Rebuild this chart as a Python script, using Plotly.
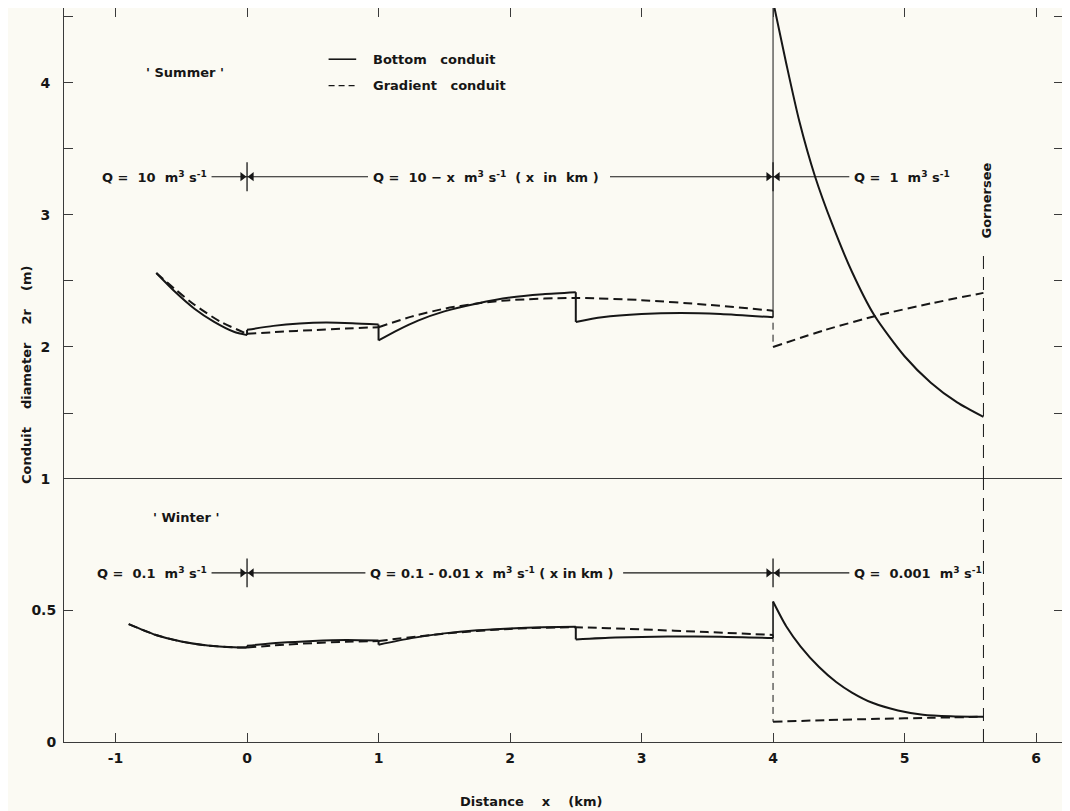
import plotly.graph_objects as go

# ---------------- data ----------------
# 'Summer' – bottom conduit (solid), segments between jumps
sb_x1 = [-0.69, -0.55, -0.40, -0.25, -0.10, 0.0]
sb_y1 = [2.56, 2.42, 2.29, 2.19, 2.115, 2.09]
sb_x2 = [0.0, 0.2, 0.4, 0.6, 0.8, 1.0]
sb_y2 = [2.13, 2.16, 2.178, 2.185, 2.18, 2.17]
sb_x3 = [1.0, 1.15, 1.3, 1.5, 1.75, 2.0, 2.25, 2.5]
sb_y3 = [2.05, 2.13, 2.2, 2.27, 2.33, 2.375, 2.40, 2.415]
sb_x4 = [2.5, 2.7, 3.0, 3.3, 3.6, 4.0]
sb_y4 = [2.19, 2.225, 2.25, 2.258, 2.25, 2.225]
sb_x5 = [4.0, 4.1, 4.2, 4.32, 4.45, 4.6, 4.77, 5.0, 5.2, 5.4, 5.6]
sb_y5 = [4.62, 4.15, 3.71, 3.29, 2.93, 2.57, 2.24, 1.93, 1.73, 1.58, 1.47]

# 'Summer' – gradient conduit (dashed)
sg_x1 = [-0.69, -0.55, -0.40, -0.20, 0.0]
sg_y1 = [2.56, 2.44, 2.32, 2.19, 2.10]
sg_x2 = [0.0, 0.25, 0.5, 0.75, 1.0]
sg_y2 = [2.10, 2.115, 2.128, 2.14, 2.15]
sg_x3 = [1.0, 1.25, 1.5, 1.75, 2.0, 2.5, 3.0, 3.5, 4.0]
sg_y3 = [2.15, 2.23, 2.29, 2.33, 2.355, 2.372, 2.355, 2.32, 2.275]
sg_x4 = [4.0, 4.4, 4.8, 5.2, 5.6]
sg_y4 = [2.0, 2.13, 2.24, 2.33, 2.41]

# 'Winter' – bottom conduit (solid)
wb_x1 = [-0.9, -0.7, -0.5, -0.3, -0.1, 0.0]
wb_y1 = [0.448, 0.408, 0.382, 0.367, 0.36, 0.359]
wb_x2 = [0.0, 0.25, 0.5, 0.75, 1.0]
wb_y2 = [0.366, 0.377, 0.384, 0.388, 0.386]
wb_x3 = [1.0, 1.25, 1.5, 1.75, 2.0, 2.25, 2.5]
wb_y3 = [0.37, 0.395, 0.413, 0.425, 0.432, 0.436, 0.438]
wb_x4 = [2.5, 2.8, 3.2, 3.6, 4.0]
wb_y4 = [0.39, 0.397, 0.401, 0.40, 0.395]
wb_x5 = [4.0, 4.1, 4.21, 4.35, 4.48, 4.6, 4.75, 4.95, 5.14, 5.35, 5.6]
wb_y5 = [0.534, 0.44, 0.363, 0.285, 0.228, 0.188, 0.15, 0.12, 0.104, 0.098, 0.096]

# 'Winter' – gradient conduit (dashed)
wg_x1 = [-0.9, -0.7, -0.5, -0.3, -0.1, 0.0]
wg_y1 = [0.448, 0.408, 0.382, 0.367, 0.36, 0.359]
wg_x2 = [0.0, 0.25, 0.5, 0.75, 1.0]
wg_y2 = [0.359, 0.369, 0.376, 0.381, 0.384]
wg_x3 = [1.0, 1.5, 2.0, 2.5, 3.0, 3.5, 4.0]
wg_y3 = [0.384, 0.412, 0.43, 0.436, 0.428, 0.418, 0.407]
wg_x4 = [4.0, 4.4, 4.8, 5.2, 5.6]
wg_y4 = [0.077, 0.083, 0.088, 0.092, 0.096]

# Gornersee position and top of its marker line
gornersee_x = 5.6
gornersee_top = 2.71

# Discharge-regime boundaries and annotation levels
q_bounds = [0.0, 4.0]
q_summer_level = 3.29
q_winter_level = 0.643

x_ticks = [-1, 0, 1, 2, 3, 4, 5, 6]
x_labels = ["-1", "0", "1", "2", "3", "4", "5", "6"]
y_bottom_ticks = [0, 0.5]
y_bottom_labels = ["0", "0.5"]
y_top_ticks = [1, 2, 3, 4]
y_top_labels = ["1", "2", "3", "4"]

# ---------------- styling ----------------
BG = "#fbfaf3"
INK = "#161616"
FRAME = "#3a3a3a"
FONT = "DejaVu Sans"
DASH = "9px,5px"

fig = go.Figure()


def add_line(x, y, panel, dash="solid", width=2.0, shape="spline"):
    xa, ya = ("x2", "y2") if panel == "top" else ("x", "y")
    fig.add_trace(go.Scatter(
        x=x, y=y, mode="lines", xaxis=xa, yaxis=ya, showlegend=False,
        hoverinfo="skip",
        line=dict(color=INK, width=width, dash=dash, shape=shape, smoothing=0.7)))


def add_series(segs_x, segs_y, panel, dash, jump_widths):
    for sx, sy in zip(segs_x, segs_y):
        add_line(sx, sy, panel, dash=dash)
    # vertical jumps between consecutive segments
    for i in range(len(segs_x) - 1):
        xj = segs_x[i][-1]
        if dash == "solid":
            jd = "solid"
        else:
            jd = dash if jump_widths[i] > 1.5 else "7px,5px"
        add_line([xj, xj], [segs_y[i][-1], segs_y[i + 1][0]], panel,
                 dash=jd, width=jump_widths[i], shape="linear")


# Summer
add_series([sb_x1, sb_x2, sb_x3, sb_x4, sb_x5], [sb_y1, sb_y2, sb_y3, sb_y4, sb_y5],
           "top", "solid", [2.0, 2.0, 2.0, 1.0])
add_series([sg_x1, sg_x2, sg_x3, sg_x4], [sg_y1, sg_y2, sg_y3, sg_y4],
           "top", DASH, [2.0, 2.0, 1.0])
# Winter
add_series([wb_x1, wb_x2, wb_x3, wb_x4, wb_x5], [wb_y1, wb_y2, wb_y3, wb_y4, wb_y5],
           "bottom", "solid", [2.0, 2.0, 2.0, 1.6])
add_series([wg_x1, wg_x2, wg_x3, wg_x4], [wg_y1, wg_y2, wg_y3, wg_y4],
           "bottom", DASH, [2.0, 2.0, 1.0])

# Gornersee dashed marker line (through both panels)
add_line([gornersee_x, gornersee_x], [0, 1], "bottom", dash="13px,8px", width=1.0, shape="linear")
add_line([gornersee_x, gornersee_x], [1, gornersee_top], "top", dash="13px,8px", width=1.0, shape="linear")


# Discharge arrows
def q_arrows(panel, level, seg_ends, cross_half):
    xa, ya = ("x2", "y2") if panel == "top" else ("x", "y")
    for x0, x1 in seg_ends:
        fig.add_trace(go.Scatter(x=[x0, x1], y=[level, level], mode="lines",
                                 xaxis=xa, yaxis=ya, showlegend=False, hoverinfo="skip",
                                 line=dict(color=INK, width=1.1)))
    for xb in q_bounds:
        fig.add_trace(go.Scatter(x=[xb - 0.035, xb + 0.035], y=[level, level], mode="markers",
                                 xaxis=xa, yaxis=ya, showlegend=False, hoverinfo="skip",
                                 marker=dict(symbol=["triangle-right", "triangle-left"],
                                             size=8, color=INK, line=dict(width=0))))
        fig.add_trace(go.Scatter(x=[xb, xb], y=[level - cross_half, level + cross_half],
                                 mode="lines", xaxis=xa, yaxis=ya, showlegend=False,
                                 hoverinfo="skip", line=dict(color=INK, width=1.3)))


q_arrows("top", q_summer_level, [(-0.27, 0.0), (0.0, 0.92), (2.76, 4.0), (4.0, 4.58)], 0.11)
q_arrows("bottom", q_winter_level, [(-0.27, 0.0), (0.0, 0.90), (2.86, 4.0), (4.0, 4.58)], 0.055)

# legend samples
fig.add_trace(go.Scatter(x=[0.62, 0.83], y=[4.18, 4.18], mode="lines", xaxis="x2", yaxis="y2",
                         showlegend=False, hoverinfo="skip", line=dict(color=INK, width=1.6)))
fig.add_trace(go.Scatter(x=[0.62, 0.83], y=[3.98, 3.98], mode="lines", xaxis="x2", yaxis="y2",
                         showlegend=False, hoverinfo="skip",
                         line=dict(color=INK, width=1.4, dash="6px,4px")))

tf = dict(family=FONT, size=13, color=INK, weight="bold")
SUP3 = "m<sup>3</sup> s<sup>-1</sup>"
ann = [
    dict(x=0.94, y=4.18, xref="x2", yref="y2", text="Bottom   conduit", xanchor="left"),
    dict(x=0.94, y=3.98, xref="x2", yref="y2", text="Gradient   conduit", xanchor="left"),
    dict(x=-0.47, y=4.08, xref="x2", yref="y2", text="' Summer '", xanchor="center"),
    dict(x=-0.46, y=0.852, xref="x", yref="y", text="' Winter '", xanchor="center"),
    dict(x=-0.29, y=q_summer_level, xref="x2", yref="y2", text="Q =  10  " + SUP3, xanchor="right"),
    dict(x=0.94, y=q_summer_level, xref="x2", yref="y2",
         text="Q =  10 − x  " + SUP3 + "  ( x  in  km )", xanchor="left"),
    dict(x=4.60, y=q_summer_level, xref="x2", yref="y2", text="Q =  1  " + SUP3, xanchor="left"),
    dict(x=-0.29, y=q_winter_level, xref="x", yref="y", text="Q =  0.1  " + SUP3, xanchor="right"),
    dict(x=0.92, y=q_winter_level, xref="x", yref="y",
         text="Q = 0.1 - 0.01 x  " + SUP3 + " ( x in km )", xanchor="left"),
    dict(x=4.60, y=q_winter_level, xref="x", yref="y", text="Q =  0.001  " + SUP3, xanchor="left"),
    dict(x=gornersee_x + 0.02, y=3.11, xref="x2", yref="y2", text="Gornersee", textangle=-90,
         xanchor="center", yanchor="middle"),
    dict(x=-0.038, y=0.5, xref="paper", yref="paper", text="Conduit    diameter    2r    (m)",
         textangle=-90, xanchor="center", yanchor="middle"),
    dict(x=0.467, y=-0.081, xref="paper", yref="paper", text="Distance    x    (km)",
         xanchor="center", yanchor="middle"),
]
for a in ann:
    a.update(showarrow=False, font=tf)
    if a["text"] == "Gornersee":
        a["bgcolor"] = BG

# page body adds an 8 px offset; plot frame spans x 64..1063, y 8..742 on the page
PLOT_H = 734
D = 263 / PLOT_H
axis_common = dict(showline=True, linecolor=FRAME, linewidth=1, ticks="inside", ticklen=9,
                   tickcolor=FRAME, tickwidth=1, showgrid=False, zeroline=False,
                   tickfont=dict(family=FONT, size=14, color=INK, weight="bold"))

fig.update_layout(
    width=1062, height=803,
    margin=dict(l=56, r=7, t=0, b=69),
    paper_bgcolor=BG, plot_bgcolor=BG,
    showlegend=False,
    annotations=ann,
    xaxis=dict(axis_common, range=[-1.392, 6.205], tickvals=x_ticks, ticktext=x_labels,
               anchor="y", mirror=True, ticklabelstandoff=3),
    xaxis2=dict(axis_common, range=[-1.392, 6.205], tickvals=x_ticks, matches="x",
                anchor="y2", side="top", showticklabels=False, mirror=False),
    yaxis=dict(axis_common, domain=[0, D], range=[0, 1], tickvals=y_bottom_ticks,
               ticktext=y_bottom_labels, anchor="x", mirror="ticks", ticklabelstandoff=4),
    yaxis2=dict(axis_common, domain=[D, 1], range=[1, 4.568], tickvals=y_top_ticks,
                ticktext=y_top_labels, anchor="x2", mirror="ticks", ticklabelstandoff=10,
                minor=dict(tickvals=[1.5, 2.5, 3.5, 4.5], ticks="inside", ticklen=9,
                           tickcolor=FRAME, tickwidth=1)),
)

fig.write_html("out.html")
